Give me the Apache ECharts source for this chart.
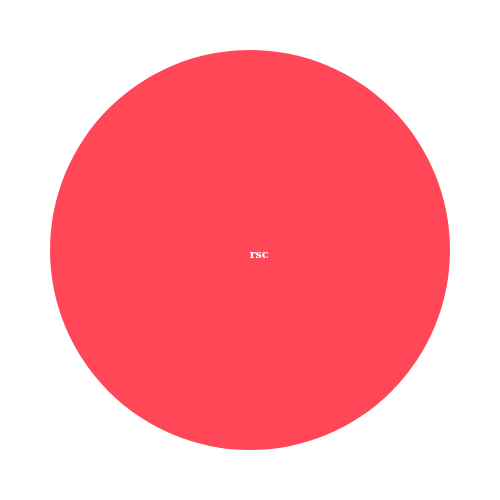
<!DOCTYPE html>
<html><head><meta charset="utf-8">
<script src="https://cdn.jsdelivr.net/npm/echarts@6/dist/echarts.min.js"></script>
<style>html,body{margin:0;padding:0;background:#fff}#c{width:500px;height:500px}</style>
</head><body><div id="c"></div>
<script>
const categories = ["rsc"];
const values = [100];
const chart = echarts.init(document.getElementById('c'));
chart.setOption({
  animation: false,
  series: [{
    type: 'pie',
    center: ['50%', '50%'],
    radius: [0, 200],
    color: ['#ff4757'],
    label: {
      show: true,
      position: 'center',
      color: '#fff',
      fontFamily: 'DejaVu Serif',
      fontWeight: 'bold',
      fontSize: 11,
      offset: [9, 5]
    },
    labelLine: { show: false },
    data: categories.map((c, i) => ({ name: c, value: values[i] }))
  }]
});
</script></body></html>
